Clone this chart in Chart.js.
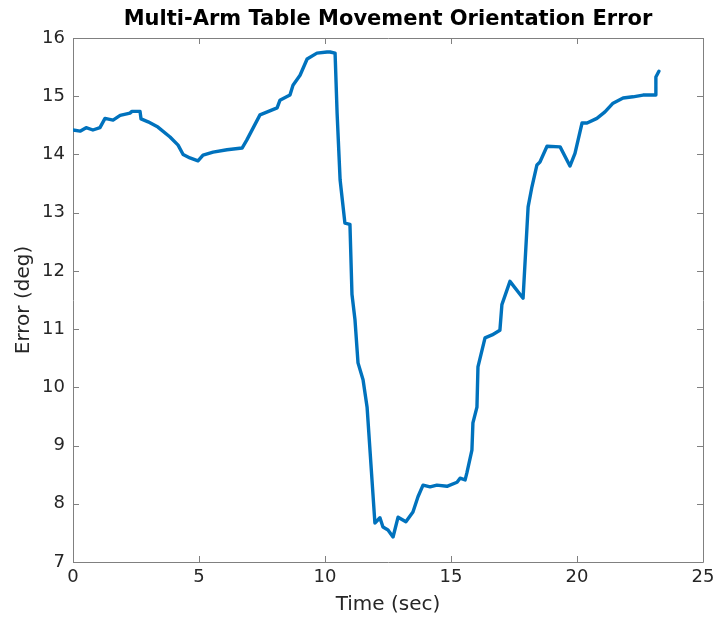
<!DOCTYPE html>
<html>
<head>
<meta charset="utf-8">
<script src="https://cdn.jsdelivr.net/npm/chart.js@4/dist/chart.umd.min.js"></script>
<style>
  html, body { margin: 0; padding: 0; background: #ffffff; }
  #wrap { width: 720px; height: 620px; }
</style>
</head>
<body>
<div id="wrap"><canvas id="c" width="720" height="620"></canvas></div>
<script>
// Orientation error of the multi-arm table over the movement
const timeSec = [
  0.00, 0.28, 0.52, 0.79, 1.07, 1.27, 1.59, 1.87, 2.26, 2.34,
  2.66, 2.70, 2.98, 3.37, 3.85, 4.17, 4.37, 4.64, 4.96, 5.16,
  5.56, 6.11, 6.71, 6.90, 7.42, 8.10, 8.21, 8.61, 8.73, 9.01,
  9.29, 9.68, 10.08, 10.20, 10.40, 10.48, 10.60, 10.79, 10.99, 11.07,
  11.19, 11.31, 11.51, 11.67, 11.98, 12.18, 12.30, 12.50, 12.70, 12.90,
  13.21, 13.49, 13.69, 13.89, 14.17, 14.44, 14.84, 15.24, 15.36, 15.56,
  15.63, 15.83, 15.87, 16.03, 16.07, 16.35, 16.63, 16.94, 17.02, 17.34,
  17.86, 18.06, 18.21, 18.41, 18.53, 18.81, 19.33, 19.72, 19.92, 20.20,
  20.40, 20.79, 21.11, 21.43, 21.83, 22.22, 22.62, 23.13, 23.13, 23.25
];
const errorDeg = [
  14.42, 14.40, 14.46, 14.42, 14.46, 14.62, 14.59, 14.67, 14.71, 14.74,
  14.74, 14.61, 14.56, 14.47, 14.30, 14.16, 14.00, 13.94, 13.89, 13.99,
  14.04, 14.08, 14.11, 14.25, 14.68, 14.80, 14.93, 15.02, 15.19, 15.36,
  15.64, 15.74, 15.76, 15.76, 15.74, 14.71, 13.56, 12.82, 12.80, 11.60,
  11.16, 10.42, 10.13, 9.66, 7.67, 7.76, 7.60, 7.55, 7.43, 7.77,
  7.69, 7.86, 8.12, 8.32, 8.29, 8.32, 8.30, 8.37, 8.44, 8.41,
  8.53, 8.92, 9.39, 9.66, 10.35, 10.85, 10.90, 10.98, 11.42, 11.82,
  11.53, 13.10, 13.44, 13.82, 13.87, 14.14, 14.13, 13.80, 14.02, 14.54,
  14.54, 14.62, 14.73, 14.88, 14.97, 14.99, 15.02, 15.02, 15.33, 15.43
];
const xTicks = [0, 5, 10, 15, 20, 25];
const yTicks = [7, 8, 9, 10, 11, 12, 13, 14, 15, 16];

const titleText = 'Multi-Arm Table Movement Orientation Error';
const textColor = '#262626';
const boxColor = '#808080';

// Axes box with inward tick marks on all four sides, plus the title
const boxPlugin = {
  id: 'matBox',
  beforeDatasetsDraw(chart) {
    const { ctx, chartArea: a, scales } = chart;
    const len = 6;
    ctx.save();
    ctx.strokeStyle = boxColor;
    ctx.lineWidth = 1;
    ctx.beginPath();
    ctx.rect(Math.round(a.left) + 0.5, Math.round(a.top) + 0.5,
             Math.round(a.right - a.left), Math.round(a.bottom - a.top));
    ctx.stroke();
    ctx.beginPath();
    xTicks.forEach(v => {
      const px = Math.round(scales.x.getPixelForValue(v)) + 0.5;
      ctx.moveTo(px, a.bottom); ctx.lineTo(px, a.bottom - len);
      ctx.moveTo(px, a.top); ctx.lineTo(px, a.top + len);
    });
    yTicks.forEach(v => {
      const py = Math.round(scales.y.getPixelForValue(v)) + 0.5;
      ctx.moveTo(a.left, py); ctx.lineTo(a.left + len, py);
      ctx.moveTo(a.right, py); ctx.lineTo(a.right - len, py);
    });
    ctx.stroke();
    ctx.restore();
  },
  afterDraw(chart) {
    const { ctx, chartArea: a } = chart;
    ctx.save();
    ctx.fillStyle = '#000000';
    ctx.font = 'bold 21px "DejaVu Sans"';
    ctx.textAlign = 'center';
    ctx.textBaseline = 'middle';
    ctx.fillText(titleText, (a.left + a.right) / 2, 20);
    ctx.restore();
  }
};

new Chart(document.getElementById('c'), {
  type: 'line',
  data: {
    datasets: [{
      data: timeSec.map((t, i) => ({ x: t, y: errorDeg[i] })),
      borderColor: '#0072BD',
      borderWidth: 3.4,
      pointRadius: 0,
      tension: 0,
      borderJoinStyle: 'round',
      borderCapStyle: 'round',
      fill: false
    }]
  },
  options: {
    responsive: false,
    animation: false,
    devicePixelRatio: 1,
    layout: { padding: { top: 38, right: 17, left: 0, bottom: 0 } },
    plugins: {
      legend: { display: false },
      title: { display: false },
      tooltip: { enabled: false }
    },
    scales: {
      x: {
        type: 'linear',
        min: 0, max: 25,
        afterFit(scale) { scale.height = 58; },
        afterBuildTicks(scale) { scale.ticks = xTicks.map(v => ({ value: v })); },
        grid: { display: false, drawTicks: false },
        border: { display: false },
        ticks: { color: textColor, font: { family: 'DejaVu Sans', size: 18 }, padding: 5, maxRotation: 0 },
        title: {
          display: true, text: 'Time (sec)', color: textColor,
          font: { family: 'DejaVu Sans', size: 20 }, padding: { top: 0, bottom: 3 }
        }
      },
      y: {
        type: 'linear',
        min: 7, max: 16,
        afterFit(scale) { scale.width = 73; },
        afterBuildTicks(scale) { scale.ticks = yTicks.map(v => ({ value: v })); },
        grid: { display: false, drawTicks: false },
        border: { display: false },
        ticks: { color: textColor, font: { family: 'DejaVu Sans', size: 18 }, padding: 8 },
        title: {
          display: true, text: 'Error (deg)', color: textColor,
          font: { family: 'DejaVu Sans', size: 20 }, padding: { top: 12, bottom: 0 }
        }
      }
    }
  },
  plugins: [boxPlugin]
});
</script>
</body>
</html>
